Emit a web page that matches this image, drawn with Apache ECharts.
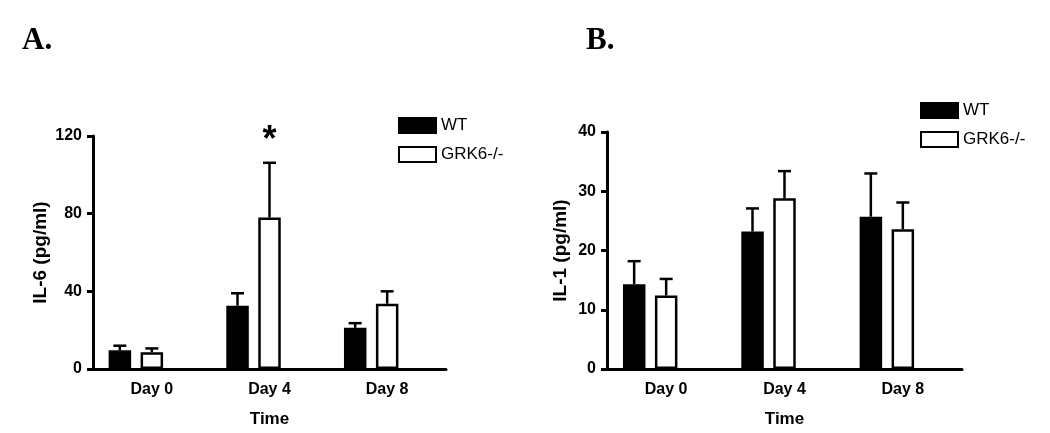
<!DOCTYPE html>
<html>
  <head>
    <meta charset="utf-8" />
    <script src="https://cdn.jsdelivr.net/npm/echarts@6/dist/echarts.min.js"></script>
  </head>
  <body style="margin: 0; background: #fff">
    <div id="main" style="width: 1050px; height: 433px"></div>

    <script type="text/javascript">
      // categories
      var days = ["Day 0", "Day 4", "Day 8"];

      // panel A: IL-6 (pg/ml), mean and SEM (upper only)
      var il6Wt = [9.6, 32.6, 21.2];
      var il6WtErr = [2.4, 6.4, 2.4];
      var il6Ko = [8.6, 78, 33.6];
      var il6KoErr = [2.0, 28.2, 6.4];

      // panel B: IL-1 (pg/ml)
      var il1Wt = [14.3, 23.2, 25.7];
      var il1WtErr = [3.9, 3.9, 7.3];
      var il1Ko = [12.4, 28.8, 23.6];
      var il1KoErr = [2.8, 4.6, 4.5];

      var font = "Liberation Sans";
      var barW = 22.5;
      var shift = 32; // WT bar sits one slot left of the tick

      var myChart = echarts.init(document.getElementById("main"));

      function errItems(means, errs) {
        return means.map(function (m, i) {
          return [i, m, errs[i]];
        });
      }

      function errSeries(idx, means, errs, dx) {
        return {
          type: "custom",
          xAxisIndex: idx,
          yAxisIndex: idx,
          z: 5,
          data: errItems(means, errs),
          encode: { x: 0, y: 1 },
          renderItem: function (params, api) {
            var p0 = api.coord([api.value(0), api.value(1)]);
            var p1 = api.coord([api.value(0), api.value(1) + api.value(2)]);
            var x = p0[0] + dx;
            var st = { stroke: "#000", lineWidth: 2.5 };
            return {
              type: "group",
              children: [
                { type: "line", shape: { x1: x, y1: p0[1], x2: x, y2: p1[1] }, style: st },
                { type: "line", shape: { x1: x - 6.5, y1: p1[1], x2: x + 6.5, y2: p1[1] }, style: st },
              ],
            };
          },
        };
      }

      function barSeries(idx, wt, ko) {
        return [
          {
            name: "WT",
            type: "bar",
            xAxisIndex: idx,
            yAxisIndex: idx,
            data: wt,
            barWidth: barW,
            barGap: "42%",
            itemStyle: { color: "#000", borderColor: "#000", borderWidth: 1.5 },
          },
          {
            name: "GRK6-/-",
            type: "bar",
            xAxisIndex: idx,
            yAxisIndex: idx,
            data: ko,
            barWidth: barW,
            barGap: "42%",
            itemStyle: { color: "#fff", borderColor: "#000", borderWidth: 2.5 },
          },
          {
            // empty slot so the white bar is centred on the tick
            name: "pad",
            type: "bar",
            xAxisIndex: idx,
            yAxisIndex: idx,
            data: ["-", "-", "-"],
            barWidth: barW,
            barGap: "42%",
          },
        ];
      }

      function xAx(idx) {
        return {
          type: "category",
          gridIndex: idx,
          data: days,
          name: "Time",
          nameLocation: "middle",
          nameGap: 42,
          nameTextStyle: { fontFamily: font, fontWeight: "bold", fontSize: 17, color: "#000" },
          axisLine: { lineStyle: { color: "#000", width: 3 } },
          axisTick: { alignWithLabel: true, length: 6, lineStyle: { color: "#000", width: 3 } },
          axisLabel: { fontFamily: font, fontWeight: "bold", fontSize: 16, color: "#000", margin: 13 },
        };
      }

      function yAx(idx, max, step, name, gap) {
        return {
          type: "value",
          gridIndex: idx,
          min: 0,
          max: max,
          interval: step,
          name: name,
          nameLocation: "middle",
          nameRotate: 90,
          nameGap: gap,
          nameTextStyle: { fontFamily: font, fontWeight: "bold", fontSize: 19, color: "#000" },
          axisLine: { show: true, lineStyle: { color: "#000", width: 3 } },
          axisTick: { show: true, length: 6, lineStyle: { color: "#000", width: 3 } },
          axisLabel: { fontFamily: font, fontWeight: "bold", fontSize: 16, color: "#000", margin: 11 },
          splitLine: { show: false },
        };
      }

      var legendBase = {
        data: ["WT", "GRK6-/-"],
        orient: "vertical",
        icon: "rect",
        itemWidth: 37,
        itemHeight: 15,
        itemGap: 12,
        padding: 0,
        selectedMode: false,
        textStyle: { fontFamily: font, fontSize: 17, color: "#000" },
      };

      var seriesA = barSeries(0, il6Wt, il6Ko);
      seriesA[1].markPoint = {
        symbol: "circle",
        symbolSize: 0,
        data: [{ coord: [1, il6Ko[1] + il6KoErr[1]] }],
        label: {
          show: true,
          formatter: "*",
          position: "top",
          distance: 4,
          fontFamily: font,
          fontWeight: "bold",
          fontSize: 36,
          color: "#000",
        },
      };

      var option = {
        animation: false,
        backgroundColor: "#fff",
        title: [
          {
            text: "A.",
            left: 17,
            top: 20,
            textStyle: { fontFamily: "Liberation Serif", fontWeight: "bold", fontSize: 31, color: "#000" },
          },
          {
            text: "B.",
            left: 581,
            top: 20,
            textStyle: { fontFamily: "Liberation Serif", fontWeight: "bold", fontSize: 31, color: "#000" },
          },
        ],
        legend: [
          Object.assign({}, legendBase, { left: 398, top: 117 }),
          Object.assign({}, legendBase, { left: 920, top: 102 }),
        ],
        grid: [
          { left: 93, top: 136, width: 353, height: 234 },
          { left: 607, top: 132, width: 355, height: 237 },
        ],
        xAxis: [xAx(0), xAx(1)],
        yAxis: [yAx(0, 120, 40, "IL-6 (pg/ml)", 43), yAx(1, 40, 10, "IL-1 (pg/ml)", 37)],
        series: seriesA
          .concat(barSeries(1, il1Wt, il1Ko))
          .concat([
            errSeries(0, il6Wt, il6WtErr, -shift),
            errSeries(0, il6Ko, il6KoErr, 0),
            errSeries(1, il1Wt, il1WtErr, -shift),
            errSeries(1, il1Ko, il1KoErr, 0),
          ]),
      };

      myChart.setOption(option);
    </script>
  </body>
</html>
